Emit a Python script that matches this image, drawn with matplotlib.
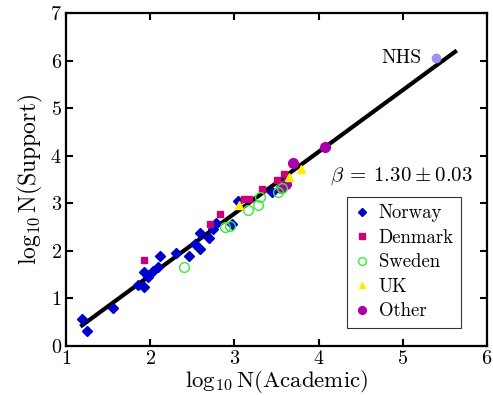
import matplotlib
matplotlib.use("Agg")
import matplotlib.pyplot as plt
import numpy as np

plt.rcParams['font.family'] = 'serif'
plt.rcParams['font.serif'] = ['cmr10', 'DejaVu Serif']
plt.rcParams['mathtext.fontset'] = 'cm'
plt.rcParams['axes.formatter.use_mathtext'] = True

# ---- data (log10 N(Academic), log10 N(Support)) ----
norway_x = [1.19, 1.25, 1.56, 1.86, 1.93, 1.92, 1.97, 2.03, 2.09, 2.12, 2.31,
            2.46, 2.53, 2.59, 2.59, 2.70, 2.75, 2.78, 2.97, 3.04, 3.44]
norway_y = [0.57, 0.30, 0.79, 1.28, 1.23, 1.54, 1.44, 1.58, 1.65, 1.88, 1.94,
            1.88, 2.14, 2.03, 2.38, 2.26, 2.45, 2.59, 2.56, 3.04, 3.24]
denmark_x = [1.93, 2.71, 2.83, 3.11, 3.17, 3.33, 3.51, 3.59]
denmark_y = [1.80, 2.56, 2.77, 3.08, 3.08, 3.30, 3.48, 3.61]
sweden_x = [2.40, 2.89, 2.95, 3.16, 3.28, 3.30, 3.52, 3.56]
sweden_y = [1.65, 2.50, 2.52, 2.85, 2.97, 3.13, 3.23, 3.31]
uk_x = [3.05, 3.65, 3.79]
uk_y = [2.97, 3.55, 3.72]
other_x = [3.55, 3.61, 3.70, 4.08]
other_y = [3.32, 3.40, 3.85, 4.17]
nhs_x = [5.39]
nhs_y = [6.06]

fit_slope = 1.30
fit_err = 0.03
fit_intercept = -1.12
fit_x = [1.19, 5.62]

x_ticks = [1, 2, 3, 4, 5, 6]
y_ticks = [0, 1, 2, 3, 4, 5, 6, 7]

fig = plt.figure(figsize=(4.93, 3.95), dpi=100)
ax = fig.add_axes([0.134, 0.125, 0.854, 0.842])

fx = np.array(fit_x)
ax.plot(fx, fit_slope * fx + fit_intercept, color='black', lw=3.0, zorder=1)

ax.plot(norway_x, norway_y, 'D', color='#0000cc', ms=5, mec='#0000cc', ls='none', label='Norway', zorder=3)
ax.plot(denmark_x, denmark_y, 's', color='#cc0077', ms=5, ls='none', label='Denmark', zorder=3)
ax.plot(sweden_x, sweden_y, 'o', mfc='none', mec='#33ee33', mew=1.0, ms=7, ls='none', label='Sweden', zorder=3)
ax.plot(uk_x, uk_y, '^', color='#ffee00', ms=6, ls='none', label='UK', zorder=3)
ax.plot(other_x, other_y, 'o', color='#aa00aa', ms=7, ls='none', label='Other', zorder=2)
ax.plot(nhs_x, nhs_y, 'o', color='#9f8ff0', ms=6, ls='none', zorder=3)

ax.text(5.22, 6.06, 'NHS', ha='right', va='center', fontsize=14)
ax.text(4.98, 3.56, r'$\beta\:=\:%.2f\:\pm\:%.2f$' % (fit_slope, fit_err), ha='center', va='center', fontsize=15)

ax.set_xlim(1, 6)
ax.set_ylim(0, 7)
ax.set_xticks(x_ticks)
ax.set_yticks(y_ticks)
ax.tick_params(direction='in', length=5, width=1.5, top=True, right=True, labelsize=14.5, pad=3)
for s in ax.spines.values():
    s.set_linewidth(1.6)

ax.set_xlabel(r'$\log_{10}\mathrm{N}(\mathrm{Academic})$', fontsize=16.5, labelpad=0)
ax.set_ylabel(r'$\log_{10}\mathrm{N}(\mathrm{Support})$', fontsize=17, labelpad=4)

leg = ax.legend(loc='upper left', bbox_to_anchor=(347/493, 1 - 197/395), bbox_transform=fig.transFigure,
                borderaxespad=0, fontsize=13.5, frameon=True, fancybox=False, edgecolor='black',
                handlelength=0.8, handletextpad=0.5, labelspacing=0.35, markerscale=0.8, borderpad=0.4)
leg.get_frame().set_linewidth(0.8)

fig.savefig('out.png', dpi=100)
